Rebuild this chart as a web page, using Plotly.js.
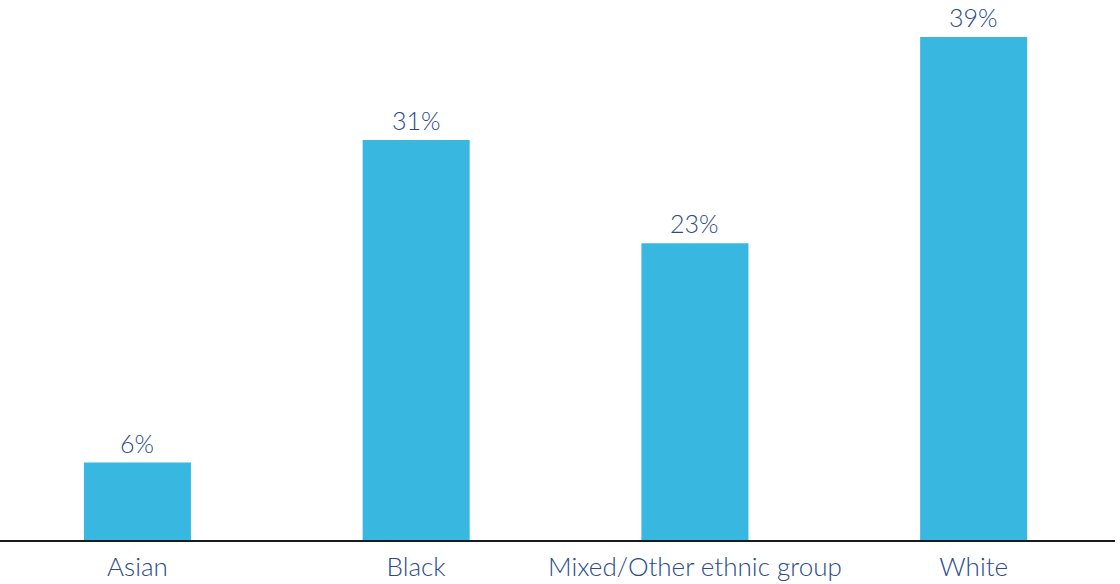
<!DOCTYPE html>
<html>
<head>
<meta charset="utf-8">
<script src="https://cdn.plot.ly/plotly-3.0.1.min.js"></script>
<style>html,body{margin:0;padding:0;background:#fff;}#chart{width:1120px;height:584px;}</style>
</head>
<body>
<div id="chart"></div>
<script>
const categories = ["Asian", "Black", "Mixed/Other ethnic group", "White"];
const values = [6, 31, 23, 39];
const valueLabels = ["6%", "31%", "23%", "39%"];

const textColor = "#2a4a8b";
const barColor = "#38b8e0";
const fontFamily = "Lato, 'Noto Sans', sans-serif";

const annotations = categories.map((c, i) => ({
  x: c, y: values[i], xref: "x", yref: "y",
  text: valueLabels[i], showarrow: false,
  yanchor: "bottom", yshift: 4, borderpad: 0,
  font: {family: fontFamily, size: 25, weight: 300, color: textColor}
}));

Plotly.newPlot("chart", [{
  type: "bar",
  x: categories,
  y: values,
  marker: {color: barColor},
  hoverinfo: "none"
}], {
  width: 1120,
  height: 584,
  margin: {l: 0, r: 5, t: 24, b: 44},
  bargap: 0.616,
  paper_bgcolor: "#ffffff",
  plot_bgcolor: "#ffffff",
  showlegend: false,
  font: {family: fontFamily, size: 26, color: textColor},
  annotations: annotations,
  xaxis: {
    range: [-0.493, 3.507],
    showline: true, linecolor: "#1a1a1a", linewidth: 1.5,
    showgrid: false, zeroline: false, ticks: "",
    ticklabelstandoff: 3,
    tickfont: {family: fontFamily, size: 26, weight: 300, color: textColor}
  },
  yaxis: {
    range: [0, 40], visible: false, showgrid: false, zeroline: false
  }
}, {displayModeBar: false, staticPlot: true});
</script>
</body>
</html>
